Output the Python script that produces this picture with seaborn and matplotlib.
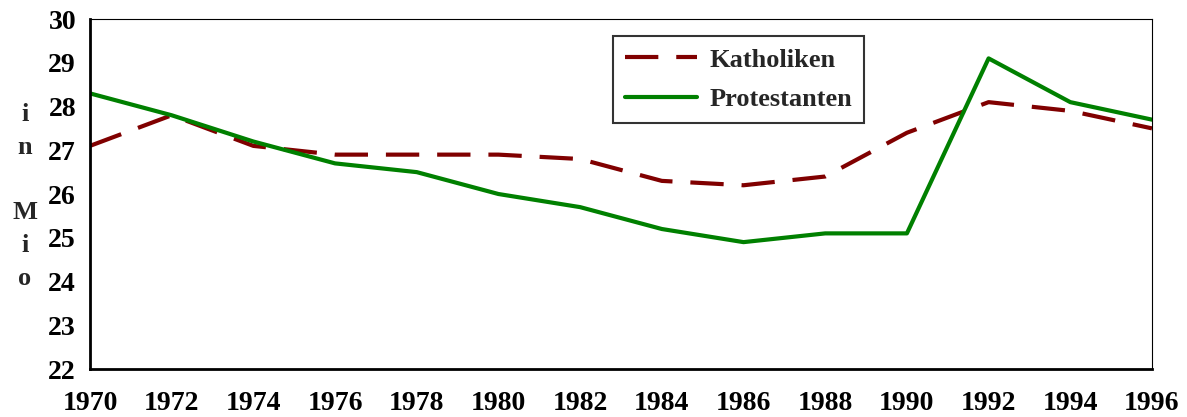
import numpy as np
import pandas as pd
import matplotlib
matplotlib.use("Agg")
import matplotlib.pyplot as plt
import seaborn as sns

# data (millions)
years = [1970, 1972, 1974, 1976, 1978, 1980, 1982, 1984, 1986, 1988, 1990, 1992, 1994, 1996]
katholiken = [27.1, 27.8, 27.1, 26.9, 26.9, 26.9, 26.8, 26.3, 26.2, 26.4, 27.4, 28.1, 27.9, 27.5]
protestanten = [28.3, 27.8, 27.2, 26.7, 26.5, 26.0, 25.7, 25.2, 24.9, 25.1, 25.1, 29.1, 28.1, 27.7]

sns.set_style("white")
plt.rcParams['font.family'] = ['Liberation Serif', 'DejaVu Serif']
plt.rcParams['font.weight'] = 'bold'

fig = plt.figure(figsize=(11.87, 4.17), dpi=100)
ax = fig.add_axes([0.0758, 0.1151, 0.8947, 0.8393])

df = pd.DataFrame({'Jahr': years, 'Katholiken': katholiken, 'Protestanten': protestanten})
sns.lineplot(data=df, x='Jahr', y='Katholiken', ax=ax, color='#800000', lw=3,
             label='Katholiken')
sns.lineplot(data=df, x='Jahr', y='Protestanten', ax=ax, color='#008000', lw=3,
             label='Protestanten')
ax.lines[0].set_dashes((8, 4.3))

ax.set_xlim(1970, 1996)
ax.set_ylim(22, 30)
ax.set_xticks(years)
ax.set_yticks(range(22, 31))
ax.tick_params(axis='both', labelsize=20, colors='black', width=1.5, length=5)
ax.tick_params(axis='x', direction='inout', length=8, pad=12)
ax.tick_params(axis='y', direction='out', pad=5)
for lab in ax.get_xticklabels() + ax.get_yticklabels():
    lab.set_fontweight('bold')

for side in ['left', 'bottom']:
    ax.spines[side].set_linewidth(2)
    ax.spines[side].set_color('black')
for side in ['top', 'right']:
    ax.spines[side].set_linewidth(0.8)
    ax.spines[side].set_color('black')

ax.set_xlabel('')
ax.set_ylabel('')
fig.text(0.021, 0.529, 'i\nn\n\nM\ni\no', ha='center', va='center', fontsize=19,
         fontweight='bold', linespacing=1.55)

leg = ax.legend(loc='upper left', bbox_to_anchor=(0.4925, 0.951), fontsize=19,
                frameon=True, fancybox=False, edgecolor='black', handlelength=2.75,
                borderpad=0.45, labelspacing=0.6, handletextpad=0.45, borderaxespad=0)
leg.get_frame().set_linewidth(1.5)
for t in leg.get_texts():
    t.set_fontweight('bold')

fig.savefig('out.png', dpi=100)
